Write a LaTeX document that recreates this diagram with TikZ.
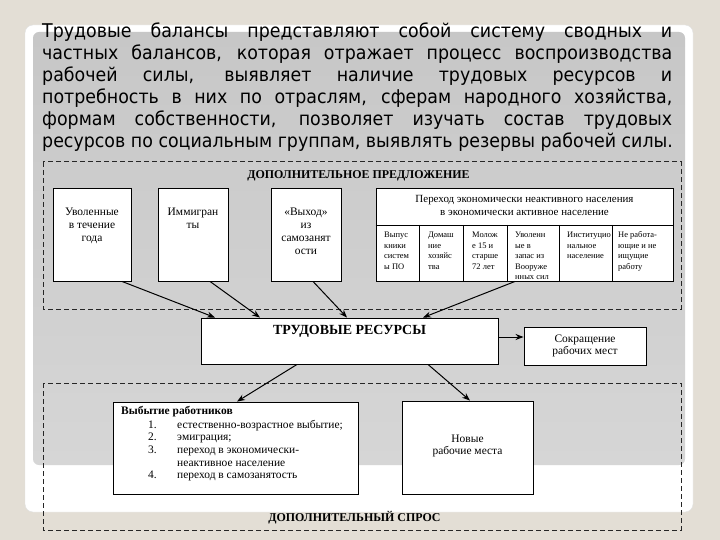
\documentclass[tikz,border=0pt]{standalone}
\usepackage{fontspec}
\setmainfont{Liberation Serif}
\newfontfamily\abzfont[FakeStretch=0.92]{DejaVu Sans}
\usetikzlibrary{arrows.meta,shadows}
\definecolor{fonbezh}{RGB}{227,222,213}
\definecolor{seryjverh}{RGB}{199,199,199}
\definecolor{seryjniz}{RGB}{214,214,214}
\newcommand{\stolb}[1]{\begin{tabular}[t]{@{}c@{}}#1\end{tabular}}
\tikzset{
  blok/.style={draw, line width=.9bp, fill=white, inner sep=0pt,
    drop shadow={shadow xshift=1bp, shadow yshift=-1bp, opacity=.9, fill=black}},
  zagolovok/.style={font=\fontsize{12}{14}\selectfont\bfseries, inner sep=0pt, anchor=base},
  tekst/.style={font=\fontsize{11.5}{12.8}\selectfont, inner sep=0pt, anchor=base},
  kolonka/.style={font=\fontsize{8.5}{10.5}\selectfont, inner sep=0pt, anchor=base west},
  strelka/.style={line width=1bp, -{Stealth[length=8bp,width=6bp]}},
  punktir/.style={draw=black!85, line width=1bp, dash pattern=on 5bp off 3bp},
  abzac/.style={font=\abzfont\fontsize{19}{22}\selectfont, inner sep=0pt, anchor=base west},
}
\begin{document}
\begin{tikzpicture}[x=1bp,y=-1bp]
  \useasboundingbox (0,0) rectangle (720,540);
  \fill[fonbezh] (0,0) rectangle (720,540);                              % фон
  \fill[white, draw=black!12, rounded corners=8bp] (25,25) rectangle (693,512); % белая панель
  \shade[top color=seryjverh, bottom color=seryjniz, rounded corners=6bp]
    (33,32) rectangle (685,465);                                         % серая панель
  % абзац над схемой
  \foreach \n/\y/\s in {1/38/{Трудовые балансы представляют собой систему сводных и},
      2/60/{частных балансов, которая отражает процесс воспроизводства},
      3/82/{рабочей силы, выявляет наличие трудовых ресурсов и},
      4/104/{потребность в них по отраслям, сферам народного хозяйства,},
      5/126/{формам собственности, позволяет изучать состав трудовых}}
    \node[abzac] (str\n) at (42,\y) {\makebox[630bp][s]{\s}};
  \node[abzac] (str6) at (42,148) {ресурсов по социальным группам, выявлять резервы рабочей силы.};
  % пунктирные рамки
  \draw[punktir] (43,162) rectangle (681,309);                           % предложение
  \draw[punktir] (43,383) rectangle (681,530);                           % спрос
  \node[zagolovok] (predl) at (358.5,179) {ДОПОЛНИТЕЛЬНОЕ ПРЕДЛОЖЕНИЕ};
  \node[zagolovok] (spros) at (354.5,521) {ДОПОЛНИТЕЛЬНЫЙ СПРОС};
  % верхние блоки
  \node[blok, minimum width=78bp, minimum height=93bp] (uvol) at (92,234.5) {};
  \node[blok, minimum width=70bp, minimum height=93bp] (immi) at (193,234.5) {};
  \node[blok, minimum width=70bp, minimum height=93bp] (vyhod) at (306,234.5) {};
  \node[blok, minimum width=297bp, minimum height=93bp] (perehod) at (524.5,234.5) {};
  \node[tekst] (uvol-t) at (92,216) {\stolb{Уволенные\\в течение\\года}};
  \node[tekst] (immi-t) at (193,216) {\stolb{Иммигран\\ты}};
  \node[tekst] (vyhod-t) at (306,216) {\stolb{«Выход»\\из\\самозанят\\ости}};
  \node[tekst, font=\fontsize{11}{13}\selectfont] (perehod-t) at (524.5,203)
    {\stolb{Переход экономически неактивного населения\\в экономически активное население}};
  \draw[line width=.9bp] (perehod.west |- 0,225) -- (perehod.east |- 0,225); % шапка таблицы
  \foreach \x in {419,463,507,559,612}
    \draw[line width=.9bp] (\x,225) -- (\x,0 |- perehod.south);          % столбцы
  \foreach \n/\x/\t in {1/384/{Выпус\\кники\\систем\\ы ПО},
      2/428/{Домаш\\ние\\хозяйс\\тва},
      3/472/{Молож\\е 15 и\\старше\\72 лет},
      4/515/{Уволенн\\ые в\\запас из\\Вооруже\\нных сил},
      5/567/{Институцио\\нальное\\население},
      6/618/{Не работа-\\ющие и не\\ищущие\\работу}}
    \node[kolonka] (kol\n) at (\x,238) {\parbox[t]{52bp}{\t}};
  % центр
  \node[blok, minimum width=297bp, minimum height=46bp] (trud) at (349.5,341) {};
  \node[zagolovok, font=\fontsize{14}{16}\selectfont\bfseries] (trud-t) at (349.5,334.5) {ТРУДОВЫЕ РЕСУРСЫ};
  \node[blok, minimum width=122bp, minimum height=38bp] (sokr) at (585,346) {};
  \node[tekst] (sokr-t) at (585,342) {\stolb{Сокращение\\рабочих мест}};
  % нижние блоки
  \node[blok, minimum width=245bp, minimum height=92bp] (vybyt) at (235.5,448) {};
  \node[tekst, anchor=base west, font=\fontsize{11.5}{12.7}\selectfont] (vybyt-t) at (121,414)
    {\begin{tabular}[t]{@{}p{56bp}@{}l@{}}
      \multicolumn{2}{@{}l@{}}{\textbf{Выбытие работников}}\\[1.5bp]
      \hspace*{27bp}1. & естественно-возрастное выбытие;\\
      \hspace*{27bp}2. & эмиграция;\\
      \hspace*{27bp}3. & переход в экономически-\\
                       & неактивное население\\
      \hspace*{27bp}4. & переход в самозанятость
    \end{tabular}};
  \node[blok, minimum width=131bp, minimum height=93bp] (novye) at (467.5,447.5) {};
  \node[tekst] (novye-t) at (467.5,442) {\stolb{Новые\\рабочие места}};
  % стрелки
  \draw[strelka] ([xshift=30bp]uvol.south) -- ([xshift=-134.5bp]trud.north);
  \draw[strelka] ([xshift=17bp]immi.south) -- ([xshift=-89.5bp]trud.north);
  \draw[strelka] ([xshift=7bp]vyhod.south) -- ([xshift=-2.5bp]trud.north);
  \draw[strelka] ([xshift=-9.5bp]perehod.south) -- ([xshift=73.5bp]trud.north);
  \draw[strelka] ([yshift=4bp]trud.east) -- ([yshift=4bp]trud.east -| sokr.west);
  \draw[strelka] ([xshift=-52.5bp]trud.south) -- ([xshift=1.5bp]vybyt.north);
  \draw[strelka] ([xshift=78.5bp]trud.south) -- ([xshift=2.5bp]novye.north);
\end{tikzpicture}
\end{document}
